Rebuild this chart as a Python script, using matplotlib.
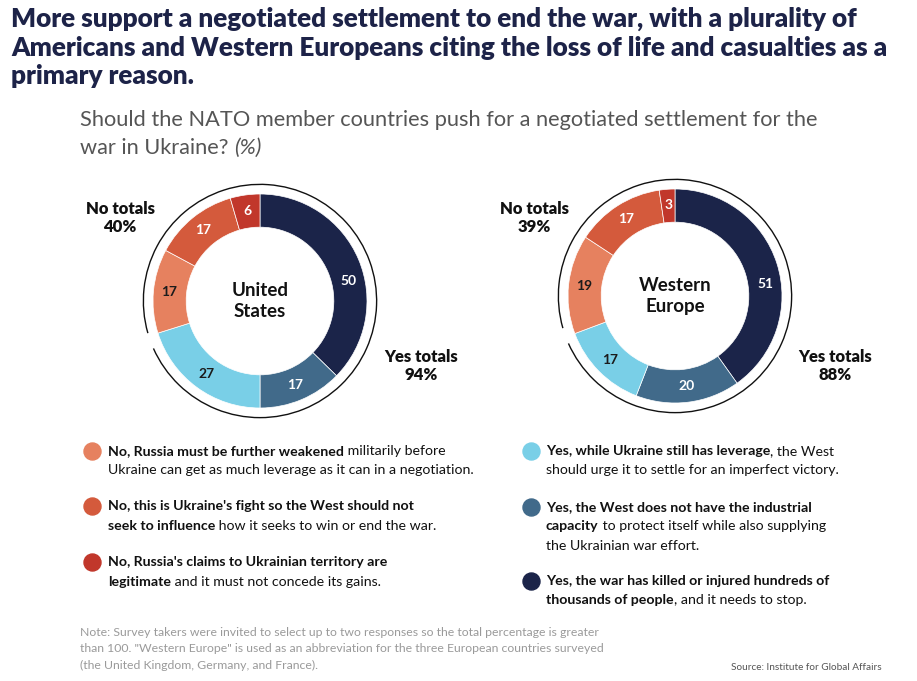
import matplotlib.pyplot as plt
import numpy as np
from matplotlib.patches import Arc

plt.rcParams['font.family'] = ['Lato', 'DejaVu Sans']

# data
regions = ['United\nStates', 'Western\nEurope']
us_values = [50, 17, 27, 17, 17, 6]
we_values = [51, 20, 17, 19, 17, 3]
no_totals = [40, 39]
yes_totals = [94, 88]
colors = ['#1b2449', '#416a8a', '#79cfe7', '#e6815f', '#d45a3c', '#c1372b']
label_colors = ['white', 'white', '#1b1b1b', '#1b1b1b', 'white', 'white']

legend_left = [
    [[("No, Russia must be further weakened", True), (" militarily before", False)],
     [("Ukraine can get as much leverage as it can in a negotiation.", False)]],
    [[("No, this is Ukraine's fight so the West should not", True)],
     [("seek to influence", True), (" how it seeks to win or end the war.", False)]],
    [[("No, Russia's claims to Ukrainian territory are", True)],
     [("legitimate", True), (" and it must not concede its gains.", False)]],
]
legend_right = [
    [[("Yes, while Ukraine still has leverage", True), (", the West", False)],
     [("should urge it to settle for an imperfect victory.", False)]],
    [[("Yes, the West does not have the industrial", True)],
     [("capacity", True), (" to protect itself while also supplying", False)],
     [("the Ukrainian war effort.", False)]],
    [[("Yes, the war has killed or injured hundreds of", True)],
     [("thousands of people", True), (", and it needs to stop.", False)]],
]

W, H = 917, 681
fig = plt.figure(figsize=(W / 100, H / 100), dpi=100)
bg = fig.add_axes([0, 0, 1, 1])
bg.set_xlim(0, W)
bg.set_ylim(H, 0)
bg.axis('off')
renderer = fig.canvas.get_renderer()

navy = '#1d2348'
title = ["More support a negotiated settlement to end the war, with a plurality of",
         "Americans and Western Europeans citing the loss of life and casualties as a",
         "primary reason."]
for n, line in enumerate(title):
    bg.text(11, 19 + n * 28.5, line, fontsize=18.8, fontweight='heavy', color=navy, va='center')

bg.text(80, 120, "Should the NATO member countries push for a negotiated settlement for the",
        fontsize=15.7, color='#555555', va='center')
t = bg.text(80, 148, "war in Ukraine? ", fontsize=15.7, color='#555555', va='center')
w = t.get_window_extent(renderer=renderer).width
bg.text(80 + w, 148, "(%)", fontsize=15.7, color='#555555', va='center', style='italic')

# donuts
centers = [(260, 301), (675, 296)]
R = 107
L = 1.25
for i, vals in enumerate([us_values, we_values]):
    cx, cy = centers[i]
    ax = fig.add_axes([(cx - L * R) / W, (H - cy - L * R) / H, 2 * L * R / W, 2 * L * R / H])
    ax.set_xlim(-L, L)
    ax.set_ylim(-L, L)
    ax.set_aspect('equal')
    ax.axis('off')
    wedges, _ = ax.pie(vals, colors=colors, startangle=90, counterclock=False, radius=1,
                       wedgeprops=dict(width=0.31, edgecolor='white', linewidth=0.5))
    for j, (wd, v) in enumerate(zip(wedges, vals)):
        ang = (wd.theta1 + wd.theta2) / 2
        if j == 0:
            ang -= 10
        r = 0.85
        ax.text(r * np.cos(np.radians(ang)), r * np.sin(np.radians(ang)), str(v),
                ha='center', va='center', fontsize=10, fontweight='bold', color=label_colors[j])
    ax.add_patch(Arc((0, 0), 2.18, 2.18, theta1=204, theta2=196 + 360, color='#111111', lw=1))
    ax.text(0, 0, regions[i], ha='center', va='center', fontsize=13.5, fontweight='bold',
            color='#111111', linespacing=1.35)

# totals labels
tot_pos = [((120, 218), (421, 366)), ((534, 218), (835, 366))]
for i in range(2):
    (nx, ny), (yx, yy) = tot_pos[i]
    bg.text(nx, ny, "No totals\n%d%%" % no_totals[i], ha='center', va='center', fontsize=12,
            fontweight='heavy', color='#111111', linespacing=1.2)
    bg.text(yx, yy, "Yes totals\n%d%%" % yes_totals[i], ha='center', va='center', fontsize=12,
            fontweight='heavy', color='#111111', linespacing=1.2)


def text_width(txt, size, weight):
    # advance width: measure with a marker glyph appended, minus the marker
    a = bg.text(0, 0, txt + '|', fontsize=size, fontweight=weight)
    b = bg.text(0, 0, '|', fontsize=size, fontweight=weight)
    wa = a.get_window_extent(renderer=renderer).width
    wb = b.get_window_extent(renderer=renderer).width
    a.remove()
    b.remove()
    return wa - wb


def runs(x, y, parts, size=10.2):
    for txt, bold in parts:
        weight = 'bold' if bold else 'normal'
        bg.text(x, y, txt, fontsize=size, fontweight=weight,
                color='#111111', va='center', ha='left')
        x += text_width(txt, size, weight)


# legend
left_y = [451, 506, 562]
right_y = [451, 507, 581]
for k, item in enumerate(legend_left):
    bg.scatter([92], [left_y[k]], s=150, color=colors[3 + k], zorder=3)
    for n, line in enumerate(item):
        runs(108, left_y[k] + n * 19.5, line)
for k, item in enumerate(legend_right):
    bg.scatter([531], [right_y[k]], s=150, color=colors[2 - k], zorder=3)
    for n, line in enumerate(item):
        runs(546, right_y[k] + n * 19.5, line)

note = ["Note: Survey takers were invited to select up to two responses so the total percentage is greater",
        "than 100. \"Western Europe\" is used as an abbreviation for the three European countries surveyed",
        "(the United Kingdom, Germany, and France)."]
for n, line in enumerate(note):
    bg.text(80, 632 + n * 16.5, line, fontsize=8.8, color='#9a9a9a', va='center')

bg.text(882, 668, "Source: Institute for Global Affairs", fontsize=7.2, color='#555555',
        va='center', ha='right')

fig.savefig('out.png', dpi=100)
